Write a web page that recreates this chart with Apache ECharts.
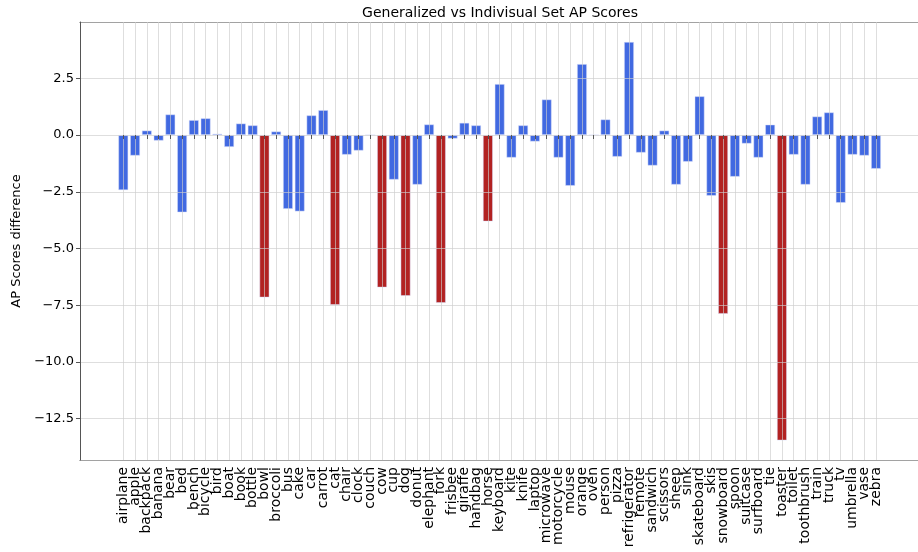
<!DOCTYPE html>
<html>
<head>
<meta charset="utf-8">
<script src="https://cdn.jsdelivr.net/npm/echarts@6/dist/echarts.min.js"></script>
<style>html,body{margin:0;padding:0;background:#fff}#chart{width:918px;height:552px}</style>
</head>
<body>
<div id="chart"></div>
<script>
const categories = ['airplane','apple','backpack','banana','bear','bed','bench','bicycle','bird','boat','book','bottle','bowl','broccoli','bus','cake','car','carrot','cat','chair','clock','couch','cow','cup','dog','donut','elephant','fork','frisbee','giraffe','handbag','horse','keyboard','kite','knife','laptop','microwave','motorcycle','mouse','orange','oven','person','pizza','refrigerator','remote','sandwich','scissors','sheep','sink','skateboard','skis','snowboard','spoon','suitcase','surfboard','tie','toaster','toilet','toothbrush','train','truck','tv','umbrella','vase','zebra'];
const apDifference = [-2.43,-0.91,0.20,-0.25,0.91,-3.41,0.66,0.74,0.06,-0.53,0.51,0.43,-7.16,0.16,-3.26,-3.37,0.87,1.10,-7.49,-0.87,-0.69,0.0,-6.72,-1.97,-7.09,-2.19,0.47,-7.40,-0.16,0.54,0.43,-3.81,2.25,-1.00,0.43,-0.29,1.57,-1.00,-2.24,3.13,0.0,0.69,-0.96,4.10,-0.78,-1.35,0.20,-2.19,-1.18,1.71,-2.68,-7.88,-1.84,-0.38,-1.00,0.46,-13.46,-0.87,-2.19,0.82,1.00,-2.99,-0.87,-0.91,-1.49];
const highlighted = ['bowl','cat','cow','dog','fork','horse','snowboard','toaster'];
const yMin = -14.32, yMax = 4.98, yStep = 2.5;

const BLUE = '#4169E1', RED = '#B22222';
const FONT = 'DejaVu Sans';
const SPINE = {color: '#555', width: 1};
const gridLine = {color: 'rgba(205,205,205,0.65)', width: 1};

const chart = echarts.init(document.getElementById('chart'), null, {renderer: 'canvas'});
chart.setOption({
  animation: false,
  backgroundColor: '#fff',
  title: {
    text: 'Generalized vs Indivisual Set AP Scores',
    left: 500, top: 6, padding: 0, textAlign: 'center',
    textStyle: {fontFamily: FONT, fontSize: 14, fontWeight: 'normal', color: '#000'}
  },
  grid: [
    {left: 80, right: 0, top: 22, bottom: 92},
    {left: 123.3, right: 42, top: 22, bottom: 92}
  ],
  xAxis: [
    {gridIndex: 0, type: 'value', min: 0, max: 1, position: 'bottom',
     axisLine: {show: true, onZero: false, lineStyle: SPINE}, axisTick: {show: false}, axisLabel: {show: false}, splitLine: {show: false}},
    {
      gridIndex: 1, type: 'category', data: categories, boundaryGap: false, z: 3,
      axisLine: {show: false},
      axisTick: {show: true, length: 4, interval: 0, lineStyle: {color: '#555'}},
      axisLabel: {rotate: 90, interval: 0, margin: 7, fontFamily: FONT, fontSize: 14, color: '#000'},
      splitLine: {show: true, interval: 0, lineStyle: gridLine}
    },
    {gridIndex: 0, type: 'value', min: 0, max: 1, position: 'top',
     axisLine: {show: true, onZero: false, lineStyle: SPINE}, axisTick: {show: false}, axisLabel: {show: false}, splitLine: {show: false}}
  ],
  yAxis: [
    {
      gridIndex: 0, type: 'value', min: yMin, max: yMax, minInterval: yStep, maxInterval: yStep, splitNumber: 8, z: 3,
      name: 'AP Scores difference', nameLocation: 'middle', nameGap: 57, nameRotate: 90,
      nameTextStyle: {fontFamily: FONT, fontSize: 13, color: '#000'},
      axisLine: {show: true, onZero: false, lineStyle: SPINE},
      axisTick: {show: true, length: 4, lineStyle: {color: '#555'}},
      axisLabel: {
        showMinLabel: false, showMaxLabel: false, margin: 6,
        fontFamily: FONT, fontSize: 13, color: '#000',
        formatter: v => v.toFixed(1).replace('-', '\u2212')
      },
      splitLine: {show: true, lineStyle: gridLine}
    },
    {gridIndex: 1, type: 'value', min: yMin, max: yMax, show: false}
  ],
  series: [{
    type: 'bar', xAxisIndex: 1, yAxisIndex: 1, clip: false, barWidth: 10,
    data: apDifference.map((v, i) => ({
      value: v,
      itemStyle: {color: highlighted.includes(categories[i]) ? RED : BLUE}
    })),
    itemStyle: {borderColor: 'rgba(215,222,250,0.6)', borderWidth: 0.8}
  }]
});
</script>
</body>
</html>
